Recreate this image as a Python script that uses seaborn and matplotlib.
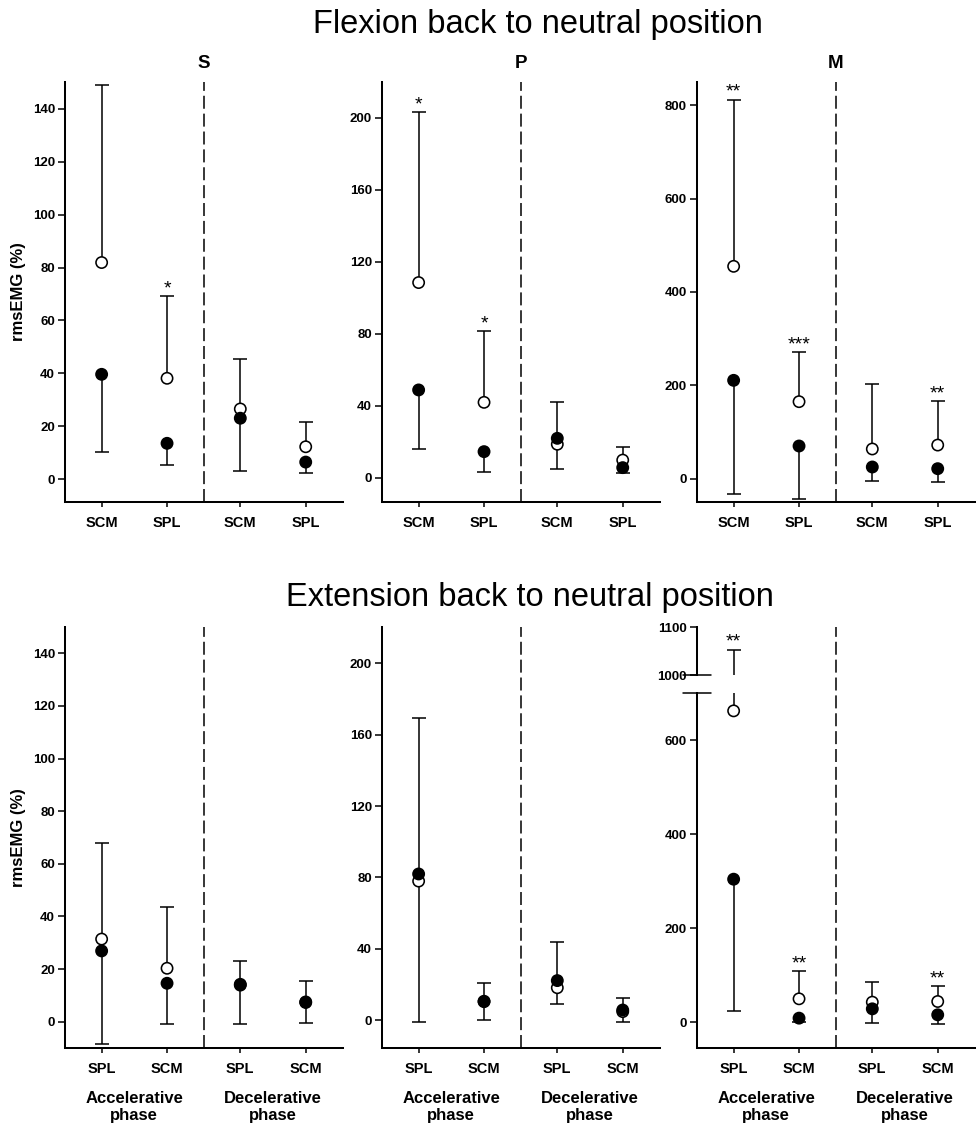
import numpy as np
import pandas as pd
import matplotlib
matplotlib.use("Agg")
import matplotlib.pyplot as plt
import matplotlib.transforms as mtransforms
from matplotlib.lines import Line2D
import seaborn as sns

sns.set_theme(style="ticks")
plt.rcParams["font.family"] = ["Liberation Sans", "DejaVu Sans"]
plt.rcParams.update({
    "text.color": "black",
    "axes.labelcolor": "black",
    "xtick.color": "black",
    "ytick.color": "black",
    "axes.edgecolor": "black",
})

# ---------------- data ----------------
flex_muscles = ["SCM", "SPL", "SCM", "SPL"]
ext_muscles = ["SPL", "SCM", "SPL", "SCM"]
phase_labels = ["Accelerative\nphase", "Decelerative\nphase"]
group_labels = ["S", "P", "M"]

# Flexion back to neutral position
# open circles: mean with +SD bar, filled circles: mean with -SD bar
flex_S_open = [81.9, 38.1, 26.5, 12.2]
flex_S_open_sd = [67.2, 31.0, 18.9, 9.2]
flex_S_filled = [39.6, 13.5, 23.0, 6.4]
flex_S_filled_sd = [29.4, 8.2, 20.0, 4.3]
flex_S_sig = ["", "*", "", ""]

flex_P_open = [108.5, 41.9, 18.6, 9.8]
flex_P_open_sd = [94.7, 39.4, 23.7, 7.1]
flex_P_filled = [48.8, 14.5, 21.9, 5.6]
flex_P_filled_sd = [33.0, 11.2, 17.1, 3.2]
flex_P_sig = ["*", "*", "", ""]

flex_M_open = [455.0, 165.0, 63.6, 72.0]
flex_M_open_sd = [357.0, 106.0, 139.4, 93.7]
flex_M_filled = [210.7, 70.0, 25.0, 21.4]
flex_M_filled_sd = [242.7, 113.0, 29.3, 28.4]
flex_M_sig = ["**", "***", "", "**"]

# Extension back to neutral position
ext_S_open = [31.4, 20.3, 14.2, 7.5]
ext_S_open_sd = [36.6, 23.2, 8.9, 8.1]
ext_S_filled = [26.9, 14.6, 13.9, 7.3]
ext_S_filled_sd = [35.4, 15.5, 14.9, 7.7]
ext_S_sig = ["", "", "", ""]

ext_P_open = [77.9, 10.5, 18.1, 4.7]
ext_P_open_sd = [91.6, 10.4, 25.5, 7.8]
ext_P_filled = [81.9, 10.3, 22.1, 5.6]
ext_P_filled_sd = [82.8, 10.3, 13.3, 6.5]
ext_P_sig = ["", "", "", ""]

ext_M_open = [662.0, 49.6, 42.5, 43.9]
ext_M_open_sd = [391.0, 58.1, 42.5, 32.6]
ext_M_filled = [304.0, 8.5, 28.3, 15.6]
ext_M_filled_sd = [281.3, 8.5, 30.3, 19.8]
ext_M_sig = ["**", "**", "", "**"]

# ---------------- layout ----------------
W, H = 977, 1131
fig = plt.figure(figsize=(W / 100, H / 100), dpi=100)

POS = np.array([0.0, 1.0, 2.12, 3.12])
DIVIDER = 1.56
PHASE_X = [0.5, 2.62]
XLIM = (-0.56, 3.69)

AX_LEFT = [65, 382, 697]
AX_W = 278
TOP_ROW = (82, 502)
BOT_ROW = (627, 1048)

LW = 1.1
SPINE_LW = 1.45


def frac_rect(x0, y_top, w, y_bot):
    return [x0 / W, 1 - y_bot / H, w / W, (y_bot - y_top) / H]


def style_axis(ax, ylim, yticks, show_x=True):
    sns.despine(ax=ax, top=True, right=True, bottom=not show_x)
    for side in ("left", "bottom"):
        ax.spines[side].set_linewidth(SPINE_LW)
        ax.spines[side].set_color("black")
    ax.set_xlim(*XLIM)
    ax.set_ylim(*ylim)
    ax.set_yticks(yticks)
    ax.set_yticklabels([str(t) for t in yticks], fontsize=9.5, fontweight="bold")
    ax.tick_params(axis="y", direction="out", length=4.7, width=1.1, pad=2.5, colors="black")
    ax.grid(False)
    ax.patch.set_visible(False)


def draw_points(ax, muscles, o_mean, o_sd, f_mean, f_sd, sig):
    o_mean = np.asarray(o_mean)
    o_sd = np.asarray(o_sd)
    f_mean = np.asarray(f_mean)
    f_sd = np.asarray(f_sd)
    o_cap = o_mean + o_sd
    f_cap = f_mean - f_sd

    # one-sided bars: up for open, down for filled
    ax.errorbar(POS, o_mean, yerr=[np.zeros_like(o_sd), o_sd], fmt="none",
                ecolor="black", elinewidth=LW, capsize=0, zorder=2)
    ax.errorbar(POS, f_mean, yerr=[f_sd, np.zeros_like(f_sd)], fmt="none",
                ecolor="black", elinewidth=LW, capsize=0, zorder=2)
    ax.plot(POS, o_cap, ls="none", marker="_", ms=9.5, mew=LW, color="black", zorder=2)
    ax.plot(POS, f_cap, ls="none", marker="_", ms=9.5, mew=LW, color="black", zorder=2)

    df = pd.DataFrame({
        "pos": np.concatenate([POS, POS]),
        "value": np.concatenate([o_mean, f_mean]),
        "kind": ["open"] * len(POS) + ["filled"] * len(POS),
    })
    sns.scatterplot(data=df, x="pos", y="value", hue="kind",
                    palette={"open": "white", "filled": "black"},
                    edgecolor="black", linewidth=1.15, s=66, legend=False,
                    ax=ax, zorder=3)
    ax.set_xlabel("")
    ax.set_ylabel("")

    lo, hi = ax.get_ylim()
    for x, c, s in zip(POS, o_cap, sig):
        if s and lo <= c <= hi:
            ax.annotate(s, (x, c), xytext=(0, 2.0), textcoords="offset points",
                        ha="center", va="baseline", fontsize=14, color="black")


def set_xaxis(ax, muscles, phases=False):
    ax.set_xticks(POS)
    ax.set_xticklabels(muscles, fontsize=10.5, fontweight="bold")
    ax.tick_params(axis="x", direction="out", length=3.6, width=1.1, pad=6.5, colors="black")
    if phases:
        for x, lab in zip(PHASE_X, phase_labels):
            ax.annotate(lab, xy=(x, 0), xycoords=("data", "axes fraction"),
                        xytext=(0, -31.0), textcoords="offset points",
                        ha="center", va="top", fontsize=12, fontweight="bold",
                        linespacing=1.2, annotation_clip=False)


def divider(ax, top=1.0):
    tr = mtransforms.blended_transform_factory(ax.transData, ax.transAxes)
    ax.add_line(Line2D([DIVIDER, DIVIDER], [0, top], transform=tr, color="black",
                       lw=LW, linestyle=(0, (8.5, 3.2)), clip_on=False, zorder=1))


flex_sets = [
    (flex_S_open, flex_S_open_sd, flex_S_filled, flex_S_filled_sd, flex_S_sig,
     (-8.7, 150.2), list(range(0, 141, 20))),
    (flex_P_open, flex_P_open_sd, flex_P_filled, flex_P_filled_sd, flex_P_sig,
     (-13.5, 220.0), list(range(0, 201, 40))),
    (flex_M_open, flex_M_open_sd, flex_M_filled, flex_M_filled_sd, flex_M_sig,
     (-50.0, 850.0), list(range(0, 801, 200))),
]
ext_sets = [
    (ext_S_open, ext_S_open_sd, ext_S_filled, ext_S_filled_sd, ext_S_sig,
     (-10.0, 150.0), list(range(0, 141, 20))),
    (ext_P_open, ext_P_open_sd, ext_P_filled, ext_P_filled_sd, ext_P_sig,
     (-15.7, 220.4), list(range(0, 201, 40))),
]

# ---- top row: flexion ----
for i, (om, osd, fm, fsd, sig, ylim, yt) in enumerate(flex_sets):
    ax = fig.add_axes(frac_rect(AX_LEFT[i], TOP_ROW[0], AX_W, TOP_ROW[1]))
    style_axis(ax, ylim, yt)
    divider(ax)
    draw_points(ax, flex_muscles, om, osd, fm, fsd, sig)
    set_xaxis(ax, flex_muscles)
    ax.annotate(group_labels[i], xy=(DIVIDER, 1), xycoords=("data", "axes fraction"),
                xytext=(0, 10), textcoords="offset points", ha="center",
                va="baseline", fontsize=13.5, fontweight="bold",
                annotation_clip=False)

# ---- bottom row: extension ----
for i, (om, osd, fm, fsd, sig, ylim, yt) in enumerate(ext_sets):
    ax = fig.add_axes(frac_rect(AX_LEFT[i], BOT_ROW[0], AX_W, BOT_ROW[1]))
    style_axis(ax, ylim, yt)
    divider(ax)
    draw_points(ax, ext_muscles, om, osd, fm, fsd, sig)
    set_xaxis(ax, ext_muscles, phases=True)

# M panel with a broken y axis
BREAK_LOW_TOP = 693
BREAK_UP_BOT = 675
ax_low = fig.add_axes(frac_rect(AX_LEFT[2], BREAK_LOW_TOP, AX_W, BOT_ROW[1]))
ax_up = fig.add_axes(frac_rect(AX_LEFT[2], BOT_ROW[0], AX_W, BREAK_UP_BOT))

style_axis(ax_low, (-55.0, 700.0), [0, 200, 400, 600])
ax_low.spines["top"].set_visible(False)
style_axis(ax_up, (1000.0, 1100.0), [1000, 1100], show_x=False)

for a in (ax_low, ax_up):
    draw_points(a, ext_muscles, ext_M_open, ext_M_open_sd, ext_M_filled,
                ext_M_filled_sd, ext_M_sig)
set_xaxis(ax_low, ext_muscles, phases=True)
ax_up.set_xticks([])

low_h = BOT_ROW[1] - BREAK_LOW_TOP
divider(ax_low, top=(BOT_ROW[1] - BOT_ROW[0]) / low_h)

# break marks across the y axis
half = 14 / AX_W
ax_low.add_line(Line2D([-half, half], [1, 1], transform=ax_low.transAxes,
                       color="black", lw=LW, clip_on=False))
ax_up.add_line(Line2D([-half, half], [0, 0], transform=ax_up.transAxes,
                      color="black", lw=LW, clip_on=False))

# ---- shared texts ----
fig.text(538 / W, 1 - 33 / H, "Flexion back to neutral position",
         ha="center", va="baseline", fontsize=23.5)
fig.text(530 / W, 1 - 606 / H, "Extension back to neutral position",
         ha="center", va="baseline", fontsize=23.5)
for yc in ((TOP_ROW[0] + TOP_ROW[1]) / 2, (BOT_ROW[0] + BOT_ROW[1]) / 2):
    fig.text(19 / W, 1 - yc / H, "rmsEMG (%)", rotation=90, ha="center",
             va="center", fontsize=12, fontweight="bold")

fig.savefig("out.png", dpi=100, facecolor="white")
